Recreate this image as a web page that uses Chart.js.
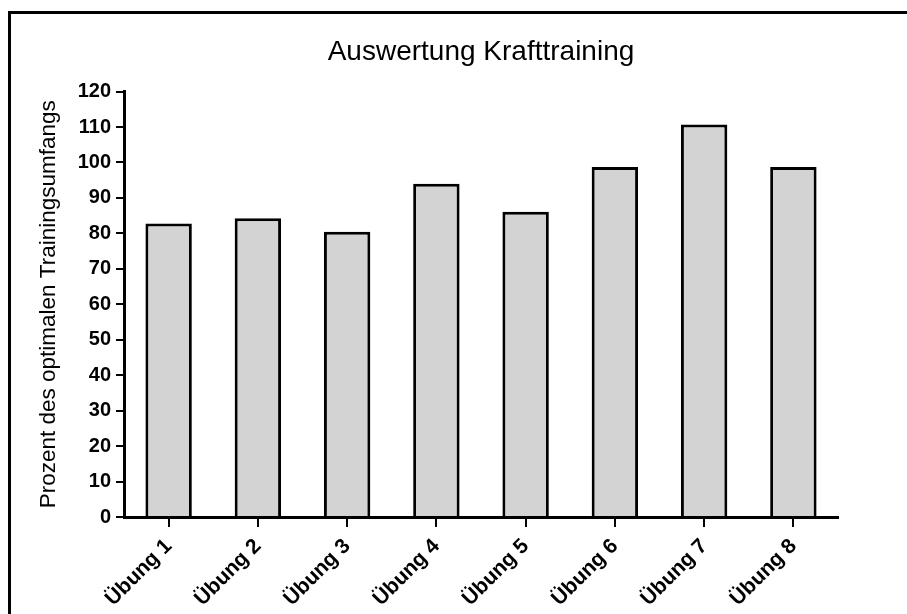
<!DOCTYPE html>
<html>
<head>
<meta charset="utf-8">
<script src="https://cdn.jsdelivr.net/npm/chart.js@4/dist/chart.umd.min.js"></script>
<style>
  html, body { margin: 0; padding: 0; background: #fff; }
  #wrap { width: 907px; height: 614px; position: relative; }
</style>
</head>
<body>
<div id="wrap"><canvas id="c" width="907" height="614"></canvas></div>
<script>
// Exercises and percentage of the optimal training volume reached
const categories = ['Übung 1', 'Übung 2', 'Übung 3', 'Übung 4', 'Übung 5', 'Übung 6', 'Übung 7', 'Übung 8'];
const percentValues = [82.8, 84.3, 80.5, 94.0, 86.1, 98.7, 110.7, 98.7];
const yTickMin = 0;
const yTickMax = 120;
const yTickStep = 10;

const FONT = '"Liberation Sans", Arial, Helvetica, sans-serif';

// Black frame along the top and left edge of the figure
const framePlugin = {
  id: 'frame',
  beforeDraw(chart) {
    const ctx = chart.ctx;
    ctx.save();
    ctx.fillStyle = '#ffffff';
    ctx.fillRect(0, 0, chart.width, chart.height);
    ctx.strokeStyle = '#000000';
    ctx.lineWidth = 3;
    ctx.beginPath();
    ctx.moveTo(9.5, chart.height);
    ctx.lineTo(9.5, 12.5);
    ctx.lineTo(chart.width, 12.5);
    ctx.stroke();
    ctx.restore();
  }
};

new Chart(document.getElementById('c'), {
  type: 'bar',
  data: {
    labels: categories,
    datasets: [{
      data: percentValues,
      backgroundColor: '#d3d3d3',
      borderColor: '#000000',
      borderWidth: 3,
      barPercentage: 0.52,
      categoryPercentage: 1.0
    }]
  },
  options: {
    responsive: false,
    animation: false,
    layout: { padding: { left: 0, right: 69, top: 0, bottom: 0 } },
    plugins: {
      legend: { display: false },
      tooltip: { enabled: false },
      title: {
        display: true,
        fullSize: false,
        text: 'Auswertung Krafttraining',
        color: '#000000',
        font: { family: FONT, size: 28, weight: 'normal' },
        padding: { top: 35, bottom: 23 }
      }
    },
    scales: {
      x: {
        afterFit(scale) { scale.height = 97; },
        grid: {
          offset: false,
          drawOnChartArea: false,
          drawTicks: true,
          tickLength: 10,
          lineWidth: 2,
          color: '#000000'
        },
        border: { display: true, color: '#000000', width: 3 },
        ticks: {
          color: '#000000',
          font: { family: FONT, size: 21, weight: 'bold' },
          minRotation: 45,
          maxRotation: 45,
          padding: 7,
          autoSkip: false
        }
      },
      y: {
        min: yTickMin,
        max: yTickMax,
        afterFit(scale) { scale.width = 124; },
        grid: {
          drawOnChartArea: false,
          drawTicks: true,
          tickLength: 8,
          lineWidth: 2,
          color: '#000000'
        },
        border: { display: true, color: '#000000', width: 3 },
        ticks: {
          stepSize: yTickStep,
          color: '#000000',
          font: { family: FONT, size: 20, weight: 'bold' },
          padding: 5
        },
        title: {
          display: true,
          text: 'Prozent des optimalen Trainingsumfangs',
          color: '#000000',
          font: { family: FONT, size: 22.5, weight: 'normal' },
          padding: { top: 35, bottom: 0 }
        }
      }
    }
  },
  plugins: [framePlugin]
});
</script>
</body>
</html>
